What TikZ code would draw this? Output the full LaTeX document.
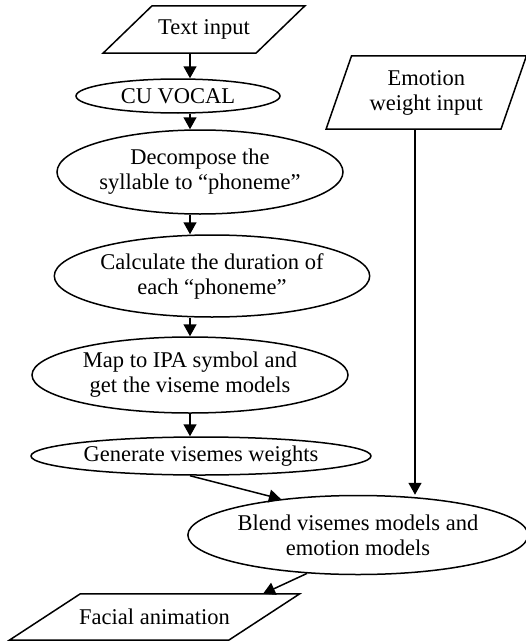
\documentclass[tikz,border=0pt]{standalone}
\usepackage{fontspec}
\setmainfont{Liberation Serif}
\usetikzlibrary{shapes.geometric,arrows.meta}
\tikzset{
  lbl/.style={font=\fontsize{22.5}{25}\selectfont, align=center, inner sep=0pt},
  ell/.style={lbl, draw, ellipse, line width=1.5pt},
  parabox/.style={lbl, rectangle},
  para/.style={line width=1.5pt, line join=miter},
  arr/.style={line width=1.5pt, -{Triangle[width=13pt,length=12pt]}}
}
\begin{document}
\begin{tikzpicture}[x=1pt,y=-1pt]
\useasboundingbox (0,0) rectangle (526,642);
% column guides
\coordinate (colx) at (190,0);
\coordinate (ecol) at (415,0);
\coordinate (fx) at (263,0);

% Text input
\node[parabox, minimum width=152.5pt, minimum height=47pt] (ti) at (204,29.5) {\raisebox{-3pt}{Text input}};
\draw[para] ([xshift=24.5pt]ti.north west) -- ([xshift=24.5pt]ti.north east)
  -- ([xshift=-24.5pt]ti.south east) -- ([xshift=-24.5pt]ti.south west) -- cycle;

% Emotion weight input
\node[parabox, minimum width=174.5pt, minimum height=73pt] (ew) at (426.25,92.5) {Emotion\\weight input};
\draw[para] ([xshift=12.75pt]ew.north west) -- ([xshift=12.75pt]ew.north east)
  -- ([xshift=-12.75pt]ew.south east) -- ([xshift=-12.75pt]ew.south west) -- cycle;

% Facial animation
\node[parabox, minimum width=219pt, minimum height=46pt] (fa) at (154.5,617) {Facial animation};
\draw[para] ([xshift=35.5pt]fa.north west) -- ([xshift=35.5pt]fa.north east)
  -- ([xshift=-35.5pt]fa.south east) -- ([xshift=-35.5pt]fa.south west) -- cycle;

% Ellipses
\node[ell, minimum width=204pt, minimum height=34pt] (cu) at (178,96) {CU VOCAL};
\node[ell, minimum width=286pt, minimum height=84pt] (dc) at (200,172) {Decompose the\\syllable to “phoneme”};
\node[ell, minimum width=314pt, minimum height=82pt] (ca) at (212,276) {Calculate the duration of\\each “phoneme”};
\node[ell, minimum width=316pt, minimum height=76pt] (mp) at (190,375) {Map to IPA symbol and\\get the viseme models};
\node[ell, minimum width=340pt, minimum height=38pt] (gv) at (201,456) {Generate visemes weights};
\node[ell, minimum width=336pt, minimum height=79pt] (bl) at (358,535) {Blend visemes models and\\emotion models};

% Connectors
\draw[arr] (ti.south -| colx) -- (cu.north -| colx);
\draw[arr] (cu.south -| colx) -- (dc.north -| colx);
\draw[arr] (dc.south -| colx) -- (ca.north -| colx);
\draw[arr] (ca.south -| colx) -- (mp.north -| colx);
\draw[arr] (mp.south -| colx) -- (gv.north -| colx);
\draw[arr] (gv.south -| colx) -- (bl.155);
\draw[arr] (ew.south -| ecol) -- (bl.north -| ecol);
\draw[arr] (bl.217) -- (fa.north -| fx);
\end{tikzpicture}
\end{document}
